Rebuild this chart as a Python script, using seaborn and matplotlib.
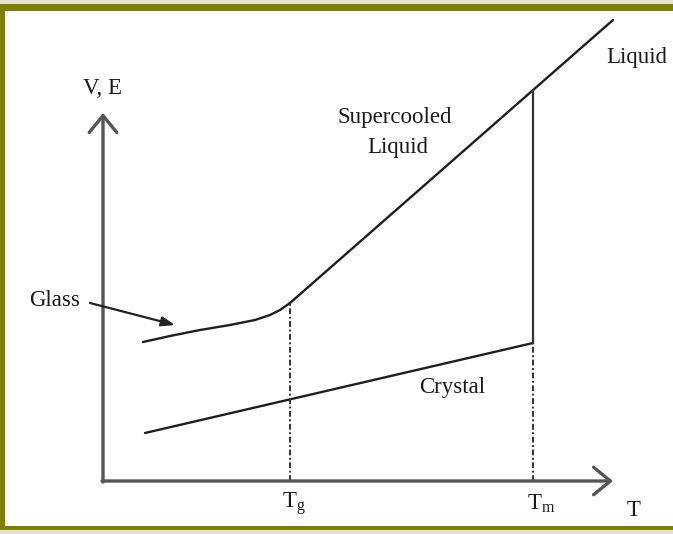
import matplotlib
matplotlib.use("Agg")
import matplotlib.pyplot as plt
import seaborn as sns
import numpy as np
from matplotlib.patches import Rectangle

sns.set_style("white")
plt.rcParams['font.family'] = ['Liberation Serif', 'DejaVu Serif']
plt.rcParams['mathtext.fontset'] = 'custom'
plt.rcParams['mathtext.rm'] = 'Liberation Serif'
plt.rcParams['mathtext.it'] = 'Liberation Serif'

# ---- data (temperature T vs volume/enthalpy V, arbitrary units) ----
T_g = 187
T_m = 430
glass_T = [40, 67, 97, 127, 152, 167, 177, 187]
glass_V = [139, 145, 151, 156, 161, 166, 171, 178]
liquid_T = [187, 510]
liquid_V = [178, 461]
crystal_T = [42, 430]
crystal_V = [48, 138]
melt_solid_V = [138, 391]
melt_dash_V = [0, 138]
tg_dash_V = [0, 178]
x_axis_end = 510
y_axis_end = 368

fig = plt.figure(figsize=(6.73, 5.34), dpi=100)
ax = fig.add_axes([0, 0, 1, 1])
ax.set_xlim(-103, 570)
ax.set_ylim(-53, 481)
ax.axis('off')

W, H = 673, 534
def px_rect(x0, y0, x1, y1, color):
    ax.add_patch(Rectangle((x0 / W, 1 - y1 / H), (x1 - x0) / W, (y1 - y0) / H,
                           transform=ax.transAxes, color=color, lw=0, zorder=0))

# border
px_rect(0, 0, W, 4, '#e6e4cf')
px_rect(0, 4, W, 11, '#808000')
px_rect(0, 4, 5, 530, '#808000')
px_rect(0, 526, W, 530, '#808000')
px_rect(0, 530, W, H, '#e6e4cf')

line_kw = dict(ax=ax, color='#1e1e1e', linewidth=1.7, sort=False, estimator=None, legend=False)
sns.lineplot(x=glass_T, y=glass_V, **line_kw)
sns.lineplot(x=liquid_T, y=liquid_V, **line_kw)
sns.lineplot(x=crystal_T, y=crystal_V, **line_kw)
sns.lineplot(x=[T_m, T_m], y=melt_solid_V, ax=ax, color='#333333', linewidth=1.6,
             sort=False, estimator=None, legend=False)
dash = (0, (3, 1.3, 1, 1.3))
for xv, yv in [([T_m, T_m], melt_dash_V), ([T_g, T_g], tg_dash_V)]:
    ax.plot(xv, yv, color='#333333', linewidth=1.4, linestyle=dash)

# axes with open arrowheads
akw = dict(arrowstyle='->,head_length=0.55,head_width=0.45', lw=2.4, color='#555555',
           shrinkA=0, shrinkB=0, mutation_scale=22)
ax.annotate('', xy=(0, y_axis_end), xytext=(0, -1), arrowprops=akw)
ax.annotate('', xy=(x_axis_end, 0), xytext=(-1, 0), arrowprops=akw)

# glass pointer arrow
ax.annotate('', xy=(72, 156), xytext=(-13, 178),
            arrowprops=dict(arrowstyle='-|>,head_length=0.5,head_width=0.18', lw=1.6,
                            color='#222222', shrinkA=0, shrinkB=0, mutation_scale=16))

fs = 16.5
tk = dict(fontsize=fs, color='#1a1a1a', ha='center', va='center')
ax.text(0, 393, 'V, E', **tk)
ax.text(292, 364, 'Supercooled', **tk)
ax.text(295, 333, 'Liquid', **tk)
ax.text(534, 424, 'Liquid', **tk)
ax.text(-48, 181, 'Glass', **tk)
ax.text(349, 93, 'Crystal', **tk)
ax.text(T_g + 4, -23, r'T$_{\mathrm{g}}$', **tk)
ax.text(T_m + 8, -23, r'T$_{\mathrm{m}}$', **tk)
ax.text(531, -30, 'T', **tk)

fig.savefig('out.png', dpi=100)
